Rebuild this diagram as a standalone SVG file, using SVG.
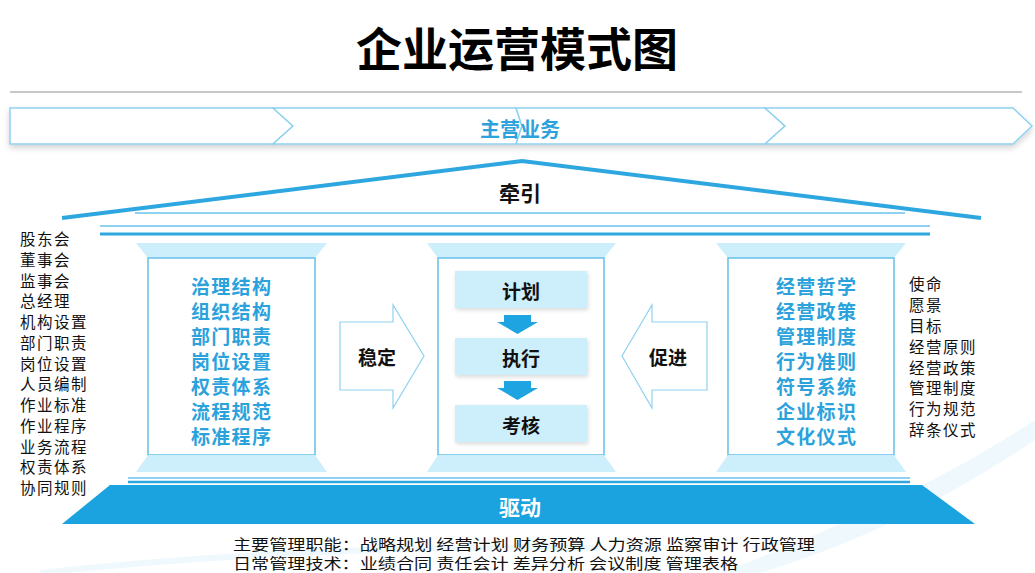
<svg xmlns="http://www.w3.org/2000/svg" width="1035" height="573" viewBox="0 0 1035 573">
<defs>
<style>
.cjk{font-family:"Noto Sans CJK SC","Noto Sans",sans-serif}
.title{font-size:46px;font-weight:700;fill:#000}
.blue{font-size:19px;font-weight:700;fill:#2ba2dc;letter-spacing:1.3px}
.list{font-size:15.5px;fill:#111;letter-spacing:1.5px}
.foot{font-size:15px;fill:#111}
.bold{font-size:19px;font-weight:700;fill:#111}
.cap{fill:#cdeefb}
.body{fill:#fff;stroke:#6ec3ea;stroke-width:1.6}
.rib{fill:#fff;stroke:#8fd2f0;stroke-width:1.5}
.hollow{fill:#fff;stroke:#8fd2f0;stroke-width:1.2}
.box{fill:#cdeefb}
.down{fill:#1ea4e0}
</style>
<filter id="sh" x="-10%" y="-30%" width="120%" height="180%">
<feDropShadow dx="0" dy="3" stdDeviation="3" flood-color="#000" flood-opacity="0.18"/>
</filter>
<filter id="sh2" x="-10%" y="-30%" width="130%" height="180%">
<feDropShadow dx="1" dy="2" stdDeviation="2" flood-color="#000" flood-opacity="0.15"/>
</filter>
</defs>
<rect width="1035" height="573" fill="#fff"/>
<path d="M720 573 C860 520 960 470 1035 420 L1035 440 C960 490 870 540 760 573 Z" fill="#eef8fd"/>
<path d="M40 573 C200 555 400 545 600 548" fill="none" stroke="#eef8fd" stroke-width="6"/>

<g id="title"><text class="cjk title" x="517" y="46" text-anchor="middle" dominant-baseline="central">企业运营模式图</text></g>
<line x1="10" y1="92" x2="1022" y2="92" stroke="#b5b5b5" stroke-width="1.5"/>

<g id="ribbon" filter="url(#sh)">
<polygon class="rib" points="10,108 273,108 293,126 273,144 10,144"/>
<polygon class="rib" points="273,108 516,108 522,126 516,144 273,144 293,126"/>
<polygon class="rib" points="516,108 765,108 785,126 765,144 516,144 522,126"/>
<polygon class="rib" points="765,108 1013,108 1032,126 1013,144 765,144 785,126"/>
</g>
<g id="main-business"><text class="cjk blue" x="520" y="128" text-anchor="middle" dominant-baseline="central" style="font-size:20px;letter-spacing:0">主营业务</text></g>

<g id="roof">
<polyline points="62,218 522,161 981,218" fill="none" stroke="#2ea7e0" stroke-width="4"/>
<line x1="135" y1="213" x2="905" y2="213" stroke="#8fd2f0" stroke-width="2"/>
<text class="cjk bold" x="520" y="192" text-anchor="middle" dominant-baseline="central" style="font-size:21px">牵引</text>
</g>

<g id="beams">
<line x1="100" y1="226" x2="930" y2="226" stroke="#8fd2f0" stroke-width="2"/>
<line x1="100" y1="234" x2="930" y2="234" stroke="#2ea7e0" stroke-width="3"/>
<line x1="128" y1="478" x2="910" y2="478" stroke="#8fd2f0" stroke-width="2"/>
<line x1="128" y1="482" x2="910" y2="482" stroke="#2ea7e0" stroke-width="2.5"/>
</g>

<g id="left-list">
<text class="cjk list" x="20" y="238" dominant-baseline="central">股东会</text>
<text class="cjk list" x="20" y="259" dominant-baseline="central">董事会</text>
<text class="cjk list" x="20" y="280" dominant-baseline="central">监事会</text>
<text class="cjk list" x="20" y="300" dominant-baseline="central">总经理</text>
<text class="cjk list" x="20" y="321" dominant-baseline="central">机构设置</text>
<text class="cjk list" x="20" y="342" dominant-baseline="central">部门职责</text>
<text class="cjk list" x="20" y="363" dominant-baseline="central">岗位设置</text>
<text class="cjk list" x="20" y="383" dominant-baseline="central">人员编制</text>
<text class="cjk list" x="20" y="404" dominant-baseline="central">作业标准</text>
<text class="cjk list" x="20" y="425" dominant-baseline="central">作业程序</text>
<text class="cjk list" x="20" y="446" dominant-baseline="central">业务流程</text>
<text class="cjk list" x="20" y="466" dominant-baseline="central">权责体系</text>
<text class="cjk list" x="20" y="487" dominant-baseline="central">协同规则</text>
</g>

<g id="left-column">
<polygon class="cap" points="136,243 327,243 315,258 148,258"/>
<rect class="body" x="148" y="258" width="167" height="197"/>
<polygon class="cap" points="148,455 315,455 327,472 136,472"/>
<text class="cjk blue" x="191" y="285" dominant-baseline="central">治理结构</text>
<text class="cjk blue" x="191" y="310" dominant-baseline="central">组织结构</text>
<text class="cjk blue" x="191" y="335" dominant-baseline="central">部门职责</text>
<text class="cjk blue" x="191" y="360" dominant-baseline="central">岗位设置</text>
<text class="cjk blue" x="191" y="385" dominant-baseline="central">权责体系</text>
<text class="cjk blue" x="191" y="410" dominant-baseline="central">流程规范</text>
<text class="cjk blue" x="191" y="435" dominant-baseline="central">标准程序</text>
</g>

<g id="middle-column">
<polygon class="cap" points="427,243 616,243 604,258 438,258"/>
<rect class="body" x="438" y="258" width="166" height="197"/>
<polygon class="cap" points="438,455 604,455 616,472 427,472"/>
</g>

<g id="plan" filter="url(#sh2)"><rect class="box" x="455" y="271" width="132" height="37"/></g>
<text class="cjk bold" x="521" y="290" text-anchor="middle" dominant-baseline="central">计划</text>
<g id="execute" filter="url(#sh2)"><rect class="box" x="455" y="338" width="132" height="37"/></g>
<text class="cjk bold" x="521" y="357" text-anchor="middle" dominant-baseline="central">执行</text>
<g id="assess" filter="url(#sh2)"><rect class="box" x="455" y="405" width="132" height="37"/></g>
<text class="cjk bold" x="521" y="424" text-anchor="middle" dominant-baseline="central">考核</text>

<g id="connectors">
<polygon class="down" points="504,315 531,315 531,322 538,322 517.5,334 497,322 504,322"/>
<polygon class="down" points="504,381 531,381 531,388 538,388 517.5,400 497,388 504,388"/>
</g>

<g id="stabilize">
<polygon class="hollow" points="340,322 393,322 393,305 424,356 393,408 393,390 340,390"/>
<text class="cjk bold" x="377" y="356" text-anchor="middle" dominant-baseline="central">稳定</text>
</g>
<g id="promote">
<polygon class="hollow" points="707,322 652,322 652,305 622,356 652,408 652,390 707,390"/>
<text class="cjk bold" x="668" y="356" text-anchor="middle" dominant-baseline="central">促进</text>
</g>

<g id="right-column">
<polygon class="cap" points="716,243 906,243 894,258 728,258"/>
<rect class="body" x="728" y="258" width="166" height="197"/>
<polygon class="cap" points="728,455 894,455 906,472 716,472"/>
<text class="cjk blue" x="776" y="285" dominant-baseline="central">经营哲学</text>
<text class="cjk blue" x="776" y="310" dominant-baseline="central">经营政策</text>
<text class="cjk blue" x="776" y="335" dominant-baseline="central">管理制度</text>
<text class="cjk blue" x="776" y="360" dominant-baseline="central">行为准则</text>
<text class="cjk blue" x="776" y="385" dominant-baseline="central">符号系统</text>
<text class="cjk blue" x="776" y="410" dominant-baseline="central">企业标识</text>
<text class="cjk blue" x="776" y="435" dominant-baseline="central">文化仪式</text>
</g>

<g id="right-list">
<text class="cjk list" x="909" y="283" dominant-baseline="central">使命</text>
<text class="cjk list" x="909" y="304" dominant-baseline="central">愿景</text>
<text class="cjk list" x="909" y="325" dominant-baseline="central">目标</text>
<text class="cjk list" x="909" y="346" dominant-baseline="central">经营原则</text>
<text class="cjk list" x="909" y="367" dominant-baseline="central">经营政策</text>
<text class="cjk list" x="909" y="387" dominant-baseline="central">管理制度</text>
<text class="cjk list" x="909" y="408" dominant-baseline="central">行为规范</text>
<text class="cjk list" x="909" y="429" dominant-baseline="central">辞条仪式</text>
</g>

<g id="drive">
<polygon points="110,485 922,485 975,524 62,524" fill="#1aa3de"/>
<text class="cjk" x="520" y="506" text-anchor="middle" dominant-baseline="central" style="font-size:21px;font-weight:700;fill:#fff">驱动</text>
</g>

<g id="footer">
<text class="cjk foot" x="233" y="543" dominant-baseline="central" textLength="582" lengthAdjust="spacingAndGlyphs">主要管理职能：战略规划 经营计划 财务预算 人力资源 监察审计 行政管理</text>
<text class="cjk foot" x="233" y="562" dominant-baseline="central" textLength="505" lengthAdjust="spacingAndGlyphs">日常管理技术：业绩合同 责任会计 差异分析 会议制度 管理表格</text>
</g>
</svg>
